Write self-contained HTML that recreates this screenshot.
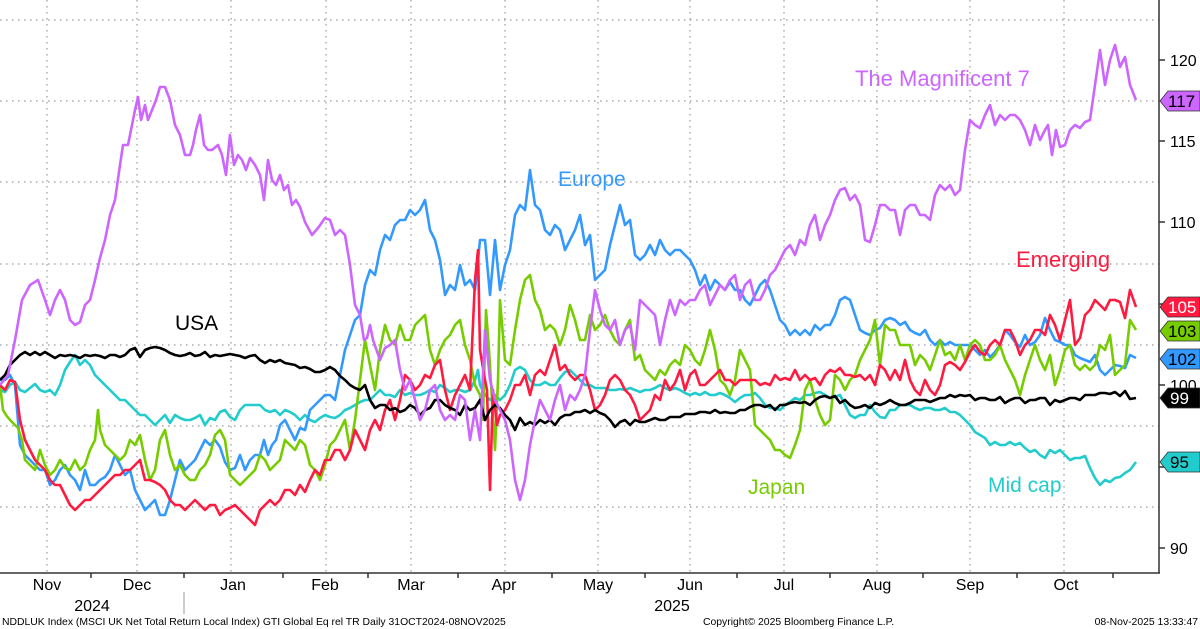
<!DOCTYPE html>
<html><head><meta charset="utf-8"><style>
html,body{margin:0;padding:0;background:#fff;width:1200px;height:629px;overflow:hidden}
svg{display:block;font-family:"Liberation Sans","DejaVu Sans",sans-serif}
</style></head><body>
<svg width="1200" height="629" viewBox="0 0 1200 629" xmlns="http://www.w3.org/2000/svg">
<g stroke="#999" stroke-width="1.2" stroke-dasharray="1.5 4.5" fill="none">
<line x1="0" y1="20" x2="1159" y2="20"/><line x1="0" y1="101" x2="1159" y2="101"/><line x1="0" y1="182" x2="1159" y2="182"/><line x1="0" y1="264" x2="1159" y2="264"/><line x1="0" y1="345" x2="1159" y2="345"/><line x1="0" y1="426" x2="1159" y2="426"/><line x1="0" y1="507" x2="1159" y2="507"/>
<line x1="47" y1="0" x2="47" y2="572"/><line x1="137" y1="0" x2="137" y2="572"/><line x1="231" y1="0" x2="231" y2="572"/><line x1="326" y1="0" x2="326" y2="572"/><line x1="411" y1="0" x2="411" y2="572"/><line x1="505" y1="0" x2="505" y2="572"/><line x1="598" y1="0" x2="598" y2="572"/><line x1="690" y1="0" x2="690" y2="572"/><line x1="784" y1="0" x2="784" y2="572"/><line x1="877" y1="0" x2="877" y2="572"/><line x1="970" y1="0" x2="970" y2="572"/><line x1="1064" y1="0" x2="1064" y2="572"/>
</g>
<g stroke="#333" stroke-width="1.5" fill="none">
<line x1="0" y1="573" x2="1160" y2="573"/><line x1="1159" y1="0" x2="1159" y2="573"/>
<line x1="1159" y1="60" x2="1165" y2="60"/><line x1="1159" y1="141" x2="1165" y2="141"/><line x1="1159" y1="222" x2="1165" y2="222"/><line x1="1159" y1="304" x2="1165" y2="304"/><line x1="1159" y1="385" x2="1165" y2="385"/><line x1="1159" y1="467" x2="1165" y2="467"/><line x1="1159" y1="548" x2="1165" y2="548"/>
<line x1="91" y1="573" x2="91" y2="578"/><line x1="184" y1="573" x2="184" y2="578"/><line x1="283" y1="573" x2="283" y2="578"/><line x1="368" y1="573" x2="368" y2="578"/><line x1="458" y1="573" x2="458" y2="578"/><line x1="552" y1="573" x2="552" y2="578"/><line x1="645" y1="573" x2="645" y2="578"/><line x1="737" y1="573" x2="737" y2="578"/><line x1="830" y1="573" x2="830" y2="578"/><line x1="923" y1="573" x2="923" y2="578"/><line x1="1017" y1="573" x2="1017" y2="578"/><line x1="1113" y1="573" x2="1113" y2="578"/>
</g>
<line x1="184" y1="592" x2="184" y2="614" stroke="#999" stroke-width="1"/>
<g font-size="16" fill="#000">
<text x="1170" y="66">120</text><text x="1170" y="147">115</text><text x="1170" y="228">110</text><text x="1170" y="391">100</text><text x="1170" y="554">90</text>
</g>
<g font-size="16" fill="#000" text-anchor="middle">
<text x="47" y="590">Nov</text><text x="137" y="590">Dec</text><text x="233" y="590">Jan</text><text x="325" y="590">Feb</text><text x="411" y="590">Mar</text><text x="504" y="590">Apr</text><text x="598" y="590">May</text><text x="690" y="590">Jun</text><text x="784" y="590">Jul</text><text x="877" y="590">Aug</text><text x="970" y="590">Sep</text><text x="1066" y="590">Oct</text>
<text x="92" y="611">2024</text><text x="672" y="611">2025</text>
</g>
<g fill="none" stroke-width="2.6" stroke-linejoin="round">
<polyline stroke="#22cccc" points="0,390 5,392 10,385 15,382 20,390 25,392 30,388 35,384 40,390 45,392 50,390 55,395 60,385 65,370 70,362 75,355 80,365 85,360 90,365 95,375 100,380 105,385 110,390 115,395 120,400 125,400 130,405 135,410 140,415 145,415 150,420 155,425 160,420 165,415 170,423 175,415 180,418 185,420 190,420 195,418 200,415 205,425 210,418 215,420 220,412 225,410 230,417 235,420 240,410 245,405 250,405 255,405 260,405 265,410 270,412 275,410 280,415 285,410 290,412 295,415 300,420 305,415 310,420 315,422 320,418 325,415 330,417 335,418 340,415 345,410 350,408 355,405 360,402 365,400 370,400 375,395 380,390 385,395 390,395 395,397 400,390 405,395 410,393 415,395 420,395 425,393 430,390 435,392 440,385 445,388 450,392 455,390 460,390 465,392 470,390 475,380 478,370 480,385 485,395 490,400 495,395 500,400 505,395 510,385 515,370 520,367 525,370 530,380 535,385 540,385 545,382 550,385 555,385 560,378 565,372 570,370 575,375 580,380 585,385 590,385 595,388 600,388 605,388 610,390 615,390 620,389 625,390 630,388 635,390 640,392 645,390 650,390 655,388 660,385 665,388 670,390 675,388 680,390 685,393 690,395 695,393 700,395 705,392 710,395 715,395 720,393 725,395 730,398 735,402 740,398 745,395 750,395 755,393 760,398 765,405 770,408 775,408 780,410 785,405 790,402 795,398 800,400 805,395 810,395 815,393 820,392 825,395 830,398 835,397 840,395 845,405 850,415 855,418 860,415 865,415 870,405 875,412 880,417 885,418 890,410 895,410 900,405 905,405 910,405 915,408 920,410 925,408 930,408 935,410 940,410 945,408 950,412 955,412 960,415 965,420 970,425 975,432 980,435 985,438 990,445 995,442 1000,445 1005,445 1010,442 1015,445 1020,443 1025,448 1030,452 1035,450 1040,455 1045,458 1050,450 1055,453 1060,450 1065,455 1070,460 1075,458 1080,458 1085,456 1090,468 1095,478 1100,485 1105,480 1110,482 1115,478 1120,477 1125,473 1130,470 1136,462"/>
<polyline stroke="#3399ff" points="0,380 5,380 10,375 15,385 20,445 25,455 30,460 35,465 40,470 45,470 50,485 55,480 60,470 65,465 70,475 75,480 80,490 85,470 90,485 95,485 100,480 105,477 110,470 115,455 120,465 125,475 130,470 135,490 140,500 145,510 150,505 155,500 160,515 165,515 170,500 175,480 180,460 185,470 190,465 195,460 200,450 205,440 210,445 215,440 220,447 225,462 230,470 235,468 240,455 245,470 250,460 255,455 260,455 264,440 268,455 272,445 276,440 280,425 285,420 290,430 295,440 300,428 305,430 310,410 315,405 320,400 325,395 330,395 335,400 340,375 345,350 350,335 355,320 360,315 365,285 370,270 375,275 380,250 385,235 390,240 395,225 400,220 405,220 410,210 415,215 420,210 425,200 430,230 435,240 440,260 445,295 450,285 455,290 460,265 465,285 470,280 475,290 480,240 485,240 490,295 495,240 500,290 505,265 510,250 515,215 520,205 525,210 530,170 535,205 540,210 545,230 550,235 555,225 560,230 565,250 570,240 575,230 580,215 585,245 590,235 595,280 600,275 605,270 610,245 615,225 620,205 625,225 630,220 635,255 640,260 645,255 650,245 655,255 660,240 665,250 670,255 675,250 680,250 685,255 690,260 695,270 700,285 705,275 710,290 715,280 720,285 725,290 730,282 735,290 740,290 745,300 750,305 755,295 760,285 765,280 770,290 775,305 780,320 785,325 790,335 795,330 800,335 805,330 810,335 815,325 820,330 825,325 830,325 835,315 840,300 845,297 850,300 855,315 860,330 865,333 870,335 875,330 880,328 885,320 890,318 895,320 900,325 905,322 910,330 915,333 920,335 925,330 930,340 935,345 940,340 945,345 950,342 955,345 960,345 965,345 970,345 975,350 980,355 985,350 990,357 995,352 1000,345 1005,330 1010,335 1015,342 1020,347 1025,335 1030,345 1035,342 1040,335 1045,318 1050,330 1055,340 1060,342 1065,345 1070,345 1075,355 1080,358 1085,360 1090,362 1095,355 1100,370 1105,375 1110,370 1115,365 1120,366 1125,368 1130,355 1136,358"/>
<polyline stroke="#77cc00" points="0,385 3,410 6,415 10,420 15,425 18,428 22,440 25,460 30,465 35,470 40,450 45,465 50,475 55,470 60,460 65,468 70,470 75,460 80,470 85,465 90,450 95,440 98,410 100,430 105,445 110,450 115,455 120,460 125,455 130,440 135,445 140,435 145,460 150,480 155,470 160,440 165,430 170,455 175,470 180,465 185,475 190,480 195,480 200,470 205,465 210,455 215,435 220,430 225,440 230,475 235,480 240,485 245,480 250,475 255,470 260,455 265,460 270,470 275,465 280,460 285,440 290,445 295,450 300,440 305,445 310,465 315,470 320,480 325,465 330,445 335,440 340,430 345,420 350,450 355,420 360,380 365,340 370,365 375,390 380,350 385,325 390,340 395,345 400,325 405,340 410,340 415,325 420,320 425,315 430,350 435,365 440,350 445,340 450,335 455,325 460,320 465,345 470,360 475,385 480,395 483,420 486,310 489,350 492,400 495,450 498,380 500,300 505,360 510,365 515,330 520,300 525,280 530,275 535,300 540,310 545,330 550,325 555,330 560,345 565,330 570,305 575,320 580,340 585,340 590,315 595,330 600,325 605,315 610,330 615,340 620,345 625,330 630,320 635,360 640,355 645,370 650,375 655,380 660,370 665,375 670,365 675,360 680,365 685,345 690,350 695,360 700,365 705,350 710,330 715,350 720,380 725,385 730,395 735,380 740,350 745,360 750,370 755,425 760,430 765,435 770,440 775,450 780,450 785,455 790,458 795,445 800,430 805,390 810,380 815,400 820,415 825,425 830,420 835,375 840,380 845,390 850,380 855,375 860,360 865,350 870,340 875,320 880,365 885,325 890,330 895,330 900,345 905,345 910,345 915,365 920,355 925,360 930,370 935,355 940,340 945,355 950,352 955,360 960,345 965,360 970,345 975,340 980,345 985,360 990,360 995,355 1000,345 1005,360 1010,370 1015,380 1020,395 1025,375 1030,360 1035,345 1040,360 1045,370 1050,355 1055,385 1060,370 1065,350 1070,345 1075,365 1080,370 1085,365 1090,370 1095,365 1100,345 1105,350 1110,335 1115,375 1120,370 1125,365 1130,320 1136,330"/>
<polyline stroke="#ff1a40" points="0,385 5,390 10,380 15,382 20,420 25,440 30,450 35,460 40,465 45,470 50,480 55,485 60,485 65,495 70,505 75,510 80,505 85,500 90,500 95,495 100,490 105,485 110,480 115,475 120,475 125,470 130,470 135,465 140,460 145,480 150,480 155,482 160,485 165,490 170,500 175,505 180,505 185,510 190,505 195,500 200,505 205,510 210,505 215,505 220,515 225,510 230,508 235,505 240,510 245,515 250,520 255,525 260,510 265,505 270,500 275,505 280,500 285,490 290,490 295,495 300,485 305,492 310,480 315,470 320,475 325,460 330,460 335,450 340,450 345,460 350,450 355,430 360,440 365,450 370,430 375,420 380,430 385,410 390,400 395,420 400,400 405,375 410,380 415,390 420,385 425,375 430,378 435,365 440,360 445,390 450,410 455,395 460,385 465,375 470,390 475,280 478,250 480,350 485,380 487,390 490,490 493,390 497,425 500,415 505,410 510,400 515,385 520,385 525,375 530,395 535,375 540,370 545,375 550,360 555,345 560,370 565,365 570,375 575,380 580,375 585,375 590,390 595,410 600,405 605,395 610,380 615,375 620,380 625,390 630,395 635,405 640,420 645,415 650,410 655,395 660,400 665,380 670,390 675,383 680,370 685,390 690,375 695,370 700,385 705,385 710,380 715,375 720,370 725,380 730,380 735,385 740,380 745,380 750,380 755,380 760,385 765,383 770,385 775,375 780,380 785,378 790,380 795,370 800,380 805,375 810,380 815,378 820,385 825,375 830,370 835,372 840,368 845,375 850,375 855,377 860,375 865,380 870,375 875,385 880,365 885,370 890,380 895,370 900,380 905,360 910,380 915,390 920,395 925,380 930,390 935,395 940,385 945,365 950,362 955,365 960,370 965,362 970,352 975,345 980,352 985,355 990,345 995,340 1000,345 1005,330 1010,330 1015,340 1020,355 1025,345 1030,340 1035,330 1040,330 1045,335 1050,315 1055,325 1060,340 1065,320 1070,300 1075,345 1080,338 1085,315 1090,310 1095,300 1100,305 1105,310 1110,300 1115,300 1120,302 1125,318 1130,290 1136,307"/>
<polyline stroke="#000" points="0,380 5,375 10,365 15,360 20,355 25,352 30,355 35,352 40,355 45,352 50,355 55,358 60,355 65,356 70,355 75,356 80,358 85,355 90,356 95,355 100,356 105,358 110,355 115,355 120,357 125,355 130,350 135,348 140,357 145,350 150,348 155,347 160,348 165,350 170,353 175,355 180,356 185,355 190,353 195,356 200,355 205,352 210,357 215,355 220,356 225,355 230,354 235,355 240,356 245,358 250,356 255,355 260,360 265,363 270,360 275,362 280,360 285,363 290,364 295,365 300,368 305,367 310,369 315,372 320,372 325,370 330,367 335,370 340,376 345,380 350,385 355,388 360,390 365,385 370,400 375,408 380,405 385,405 390,410 395,408 400,412 405,410 410,405 415,408 420,415 425,410 430,408 435,400 440,400 445,405 450,408 455,410 460,415 465,405 470,410 475,408 480,400 485,420 490,410 495,405 500,408 505,415 510,420 515,430 520,418 525,425 530,422 535,425 540,420 545,423 550,420 555,425 560,418 565,415 570,415 575,412 580,412 585,410 590,413 595,410 600,413 605,415 610,420 615,427 620,422 625,420 630,425 635,420 640,422 645,422 650,420 655,418 660,420 665,420 670,417 675,417 680,417 685,414 690,414 695,414 700,412 705,412 710,413 715,410 720,413 725,412 730,413 735,413 740,410 745,410 750,407 755,405 760,405 765,407 770,405 775,410 780,405 785,405 790,403 795,402 800,403 805,402 810,405 815,400 820,397 825,396 830,398 835,396 840,403 845,400 850,405 855,408 860,407 865,405 870,408 875,403 880,405 885,403 890,400 895,403 900,405 905,405 910,403 915,400 920,400 925,400 930,402 935,400 940,398 945,398 950,395 955,397 960,395 965,396 970,395 975,400 980,398 985,398 990,400 995,400 1000,397 1005,403 1010,400 1015,398 1020,398 1025,403 1030,400 1035,400 1040,398 1045,398 1050,405 1055,400 1060,402 1065,400 1070,398 1075,398 1080,400 1085,395 1090,395 1095,395 1100,393 1105,393 1110,394 1115,392 1120,396 1125,391 1130,399 1136,398"/>
<polyline stroke="#cc66ff" points="0,385 8,375 15,340 22,300 30,285 38,280 45,300 50,315 55,300 60,290 65,300 70,320 75,325 80,322 85,305 90,300 95,280 100,258 105,240 110,215 115,200 120,165 123,145 128,145 132,125 135,110 138,97 141,120 145,105 148,120 152,110 156,100 160,87 165,87 170,100 175,125 180,135 185,155 190,155 193,145 196,130 200,115 204,145 208,150 212,150 218,145 222,155 226,175 230,135 234,165 238,155 242,160 246,170 250,158 255,165 260,175 264,200 268,160 272,180 276,185 280,175 284,190 288,185 292,205 296,200 300,207 305,222 312,235 318,228 325,218 330,220 335,235 340,230 345,235 350,265 355,305 360,315 364,340 367,338 370,325 373,340 380,360 385,348 390,345 395,340 400,370 405,390 410,380 415,400 420,420 425,410 430,390 435,385 440,410 445,420 450,415 455,420 460,395 465,400 470,440 475,410 480,440 485,330 490,380 495,400 500,410 505,420 510,440 515,480 520,500 525,480 530,445 535,420 540,400 545,410 550,420 555,400 560,385 565,410 570,395 575,400 580,390 585,375 590,330 595,290 600,310 605,325 610,330 615,320 620,345 625,330 630,325 635,350 640,300 645,305 650,310 655,315 660,345 665,320 670,300 675,315 680,300 685,305 690,300 695,300 700,290 705,285 710,305 715,295 720,285 725,290 730,280 735,275 740,300 745,285 750,280 755,300 760,300 765,290 770,275 775,270 780,260 785,250 790,245 795,255 800,240 805,245 810,225 815,215 820,240 825,225 830,215 835,200 840,190 845,188 850,200 855,195 860,205 865,240 870,242 875,225 880,205 885,205 890,210 895,210 900,235 905,210 910,205 915,205 920,215 925,215 930,220 935,195 940,185 945,190 950,185 955,195 960,190 965,150 970,120 975,125 980,128 985,115 990,105 995,125 1000,115 1005,120 1010,115 1015,115 1020,120 1025,130 1030,145 1035,125 1040,140 1045,130 1048,125 1052,155 1056,130 1060,147 1065,145 1070,130 1075,125 1080,128 1085,122 1090,120 1095,85 1100,50 1105,85 1110,60 1115,45 1120,67 1125,57 1130,85 1136,100"/>
</g>
<g font-size="21">
<text x="855" y="86" fill="#cc66ff" font-size="22">The Magnificent 7</text>
<text x="558" y="186" fill="#3399ff">Europe</text>
<text x="1016" y="267" fill="#ff1a40" font-size="22">Emerging</text>
<text x="175" y="330" fill="#000">USA</text>
<text x="748" y="494" fill="#77cc00">Japan</text>
<text x="988" y="492" fill="#22cccc">Mid cap</text>
</g>
<g font-size="17" stroke="#333" stroke-width="0.8">
<polygon points="1160,101 1168,91 1200,91 1200,111 1168,111" fill="#cc66ff"/>
<polygon points="1160,307 1168,297 1200,297 1200,317 1168,317" fill="#ff1a40"/>
<polygon points="1160,331 1168,321 1200,321 1200,341 1168,341" fill="#77cc00"/>
<polygon points="1160,359 1168,349 1200,349 1200,369 1168,369" fill="#3399ff"/>
<polygon points="1160,398 1168,388 1200,388 1200,408 1168,408" fill="#000"/>
<polygon points="1160,462 1168,452 1200,452 1200,472 1168,472" fill="#22cccc"/>
</g>
<g font-size="17" stroke="none">
<text x="1168" y="107" fill="#000">117</text>
<text x="1168" y="313" fill="#fff">105</text>
<text x="1168" y="337" fill="#000">103</text>
<text x="1168" y="365" fill="#000">102</text>
<text x="1170" y="404" fill="#fff">99</text>
<text x="1170" y="468" fill="#000">95</text>
</g>
<g font-size="10.4" fill="#000">
<text x="2" y="625">NDDLUK Index (MSCI UK Net Total Return Local Index) GTI Global Eq rel TR Daily 31OCT2024-08NOV2025</text>
<text x="703" y="625">Copyright© 2025 Bloomberg Finance L.P.</text>
<text x="1198" y="625" text-anchor="end">08-Nov-2025 13:33:47</text>
</g>
</svg>
</body></html>
